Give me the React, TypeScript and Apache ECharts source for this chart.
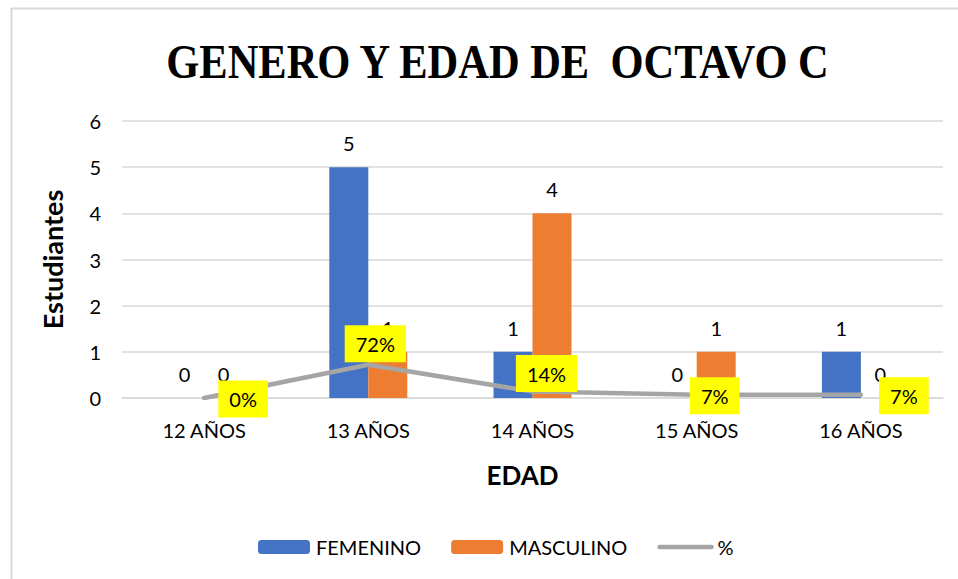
import React, { useEffect, useRef } from "react";
import * as echarts from "echarts";

const categories = ["12 AÑOS", "13 AÑOS", "14 AÑOS", "15 AÑOS", "16 AÑOS"];
const femenino = [0, 5, 1, 0, 1];
const masculino = [0, 1, 4, 1, 0];
const porcentaje = [0, 0.72, 0.14, 0.07, 0.07];
const yTicks = [0, 1, 2, 3, 4, 5, 6];

const percentOffsets: [number, number][] = [
  [39, 1],
  [7, -21],
  [14, -18],
  [18, 1],
  [43, 1],
];

const FONT = "Lato, 'Open Sans', sans-serif";

export default function App() {
  const ref = useRef<HTMLDivElement>(null);
  useEffect(() => {
    if (!ref.current) return;
    const chart = echarts.init(ref.current, null, { renderer: "svg" });
    const barLabel = {
      show: true,
      position: "top",
      distance: 14,
      color: "#000",
      fontSize: 20,
      fontFamily: FONT,
    };
    chart.setOption({
      animation: false,
      backgroundColor: "#fff",
      graphic: [
        {
          type: "line",
          shape: { x1: 11.5, y1: 8, x2: 11.5, y2: 579 },
          style: { stroke: "#D9D9D9", lineWidth: 2 },
        },
        {
          type: "line",
          shape: { x1: 11, y1: 8.5, x2: 958, y2: 8.5 },
          style: { stroke: "#D9D9D9", lineWidth: 2 },
        },
        {
          type: "text",
          x: 497.5,
          y: 61,
          scaleY: 1.15,
          style: {
            text: "GENERO Y EDAD DE  OCTAVO C",
            fontFamily: "'Liberation Serif', 'Times New Roman', serif",
            fontWeight: "bold",
            fontSize: 42.5,
            fill: "#000",
            textAlign: "center",
            textVerticalAlign: "middle",
          },
        },
      ],
      legend: {
        left: 253,
        top: 532,
        itemWidth: 52,
        itemHeight: 14,
        itemGap: 30,
        textStyle: { fontSize: 20, fontFamily: FONT, color: "#000", padding: [0, 0, 0, 1] },
        data: [
          { name: "FEMENINO" },
          { name: "MASCULINO" },
          {
            name: "%",
            itemStyle: { opacity: 0 },
            lineStyle: { width: 4.5, color: "#A5A5A5", cap: "round" },
          },
        ],
      },
      grid: { left: 122, right: 15, top: 121, bottom: 181 },
      xAxis: {
        type: "category",
        data: categories,
        name: "EDAD",
        nameLocation: "middle",
        nameGap: 64,
        nameTextStyle: {
          fontSize: 26,
          fontWeight: "bold",
          fontFamily: FONT,
          color: "#000",
          padding: [0, 20, 0, 0],
        },
        axisLine: { show: true, lineStyle: { color: "#D9D9D9", width: 1.5 } },
        axisTick: { show: false },
        axisLabel: { fontSize: 20, fontFamily: FONT, color: "#000", margin: 22 },
      },
      yAxis: {
        type: "value",
        min: yTicks[0],
        max: yTicks[yTicks.length - 1],
        interval: 1,
        name: "Estudiantes",
        nameLocation: "middle",
        nameGap: 56,
        nameRotate: 90,
        nameTextStyle: { fontSize: 27, fontWeight: "bold", fontFamily: FONT, color: "#000" },
        axisLine: { show: false },
        axisTick: { show: false },
        axisLabel: { fontSize: 20, fontFamily: FONT, color: "#000", margin: 21 },
        splitLine: { lineStyle: { color: "#D9D9D9", width: 1.5 } },
      },
      series: [
        {
          name: "FEMENINO",
          type: "bar",
          data: femenino,
          barWidth: 39,
          barGap: "0%",
          itemStyle: { color: "#4472C4" },
          label: barLabel,
          z: 2,
        },
        {
          name: "MASCULINO",
          type: "bar",
          data: masculino,
          barWidth: 39,
          barGap: "0%",
          itemStyle: { color: "#ED7D31" },
          label: barLabel,
          z: 2,
        },
        {
          name: "%",
          type: "line",
          z: 5,
          data: porcentaje.map((v, i) => ({
            value: v,
            label: { offset: percentOffsets[i] },
          })),
          symbol: "circle",
          symbolSize: 1,
          showSymbol: true,
          itemStyle: { color: "#A5A5A5" },
          lineStyle: { color: "#A5A5A5", width: 4.5, cap: "round", join: "round" },
          label: {
            show: true,
            position: "inside",
            formatter: (p: any) => Math.round(p.value * 100) + "%",
            backgroundColor: "#FFFF00",
            padding: [9, 11, 8, 11],
            color: "#000",
            fontSize: 20,
            fontFamily: FONT,
          },
        },
      ],
    });
    return () => chart.dispose();
  }, []);
  return (
    <div
      ref={ref}
      style={{ position: "fixed", left: 0, top: 0, width: 958, height: 579 }}
    />
  );
}
